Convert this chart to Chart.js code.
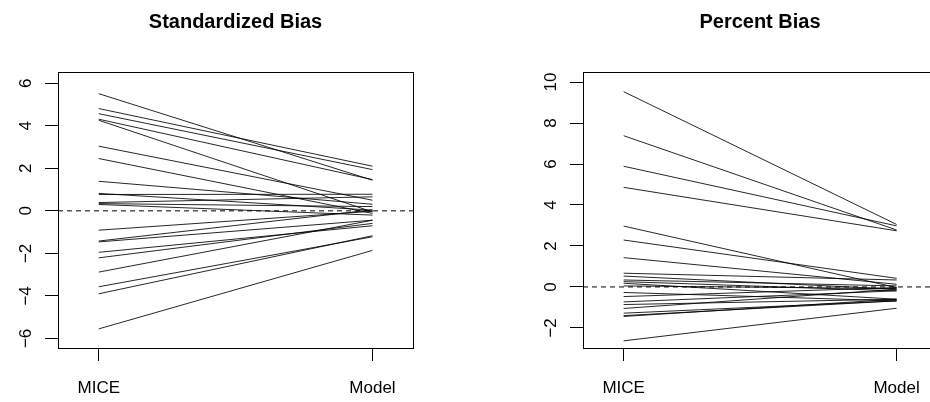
<!DOCTYPE html>
<html>
<head>
<meta charset="utf-8">
<script src="https://cdn.jsdelivr.net/npm/chart.js@4.4.1/dist/chart.umd.min.js"></script>
<style>
  html, body { margin: 0; padding: 0; background: #fff; overflow: hidden; }
  #wrap { position: relative; width: 930px; height: 402px; overflow: hidden; }
  .panel { position: absolute; top: 0; height: 402px; }
</style>
</head>
<body>
<div id="wrap">
  <div class="panel" style="left:0;width:471px;"><canvas id="stdChart"></canvas></div>
  <div class="panel" style="left:465px;width:590px;"><canvas id="pctChart"></canvas></div>
</div>
<script>
const groups = ["MICE", "Model"];

// standardized bias, one pair per parameter
const stdMice  = [5.51, 4.81, 4.57, 4.31, 4.26, 3.04, 2.46, 1.39, 0.82, 0.77, 0.39,
                  0.34, 0.30, -0.91, -1.42, -1.46, -1.95, -2.21, -2.88, -3.57, -3.90, -5.55];
const stdModel = [1.44, 2.10, 1.94, 1.47, -0.05, 0.50, -0.12, 0.31, 0.03, 0.78, 0.66,
                  0.20, -0.20, -0.02, 0.05, -0.44, -0.70, -0.59, -0.44, -1.22, -1.17, -1.86];
const stdTicks = [-6, -4, -2, 0, 2, 4, 6];

// percent bias
const pctMice  = [9.53, 7.38, 5.89, 4.86, 2.97, 2.29, 1.43, 0.67, 0.53, 0.34, 0.26,
                  0.18, 0.05, -0.27, -0.47, -0.73, -0.86, -1.05, -1.28, -1.44, -1.40, -2.63];
const pctModel = [3.05, 2.78, 2.98, 2.74, -0.03, 0.42, 0.13, 0.34, -0.11, 0.05, -0.19,
                  -0.60, -0.08, -0.68, -0.03, -0.19, -0.60, -0.11, -0.68, -0.60, -0.68, -1.04];
const pctTicks = [-2, 0, 2, 4, 6, 8, 10];

const FONT = "'Liberation Sans', Arial, Helvetica, sans-serif";
const INK = "#000";

// closed box around the plotting region, like box() in base graphics
const boxPlugin = {
  id: "box",
  afterDraw(chart) {
    const a = chart.chartArea, ctx = chart.ctx;
    ctx.save();
    ctx.strokeStyle = INK;
    ctx.lineWidth = 1;
    ctx.strokeRect(Math.round(a.left) + 0.5, Math.round(a.top) + 0.5,
                   Math.round(a.right - a.left), Math.round(a.bottom - a.top));
    ctx.restore();
  }
};

function minus(v) {
  return v < 0 ? "\u2212" + Math.abs(v) : String(v);
}

function makePanel(canvasId, title, mice, model, yTicks, yMin, yMax, axisWidth) {
  const xMin = 0.851, xMax = 2.148;
  const datasets = mice.map((v, i) => ({
    data: [{ x: 1, y: v }, { x: 2, y: model[i] }],
    borderColor: "rgba(0,0,0,0.85)",
    borderWidth: 1,
    pointRadius: 0,
    tension: 0
  }));
  // reference line at zero
  datasets.push({
    data: [{ x: xMin, y: 0 }, { x: xMax, y: 0 }],
    borderColor: INK,
    borderWidth: 1,
    borderDash: [5, 4],
    pointRadius: 0
  });

  return new Chart(document.getElementById(canvasId), {
    type: "line",
    data: { datasets: datasets },
    plugins: [boxPlugin],
    options: {
      responsive: true,
      maintainAspectRatio: false,
      animation: false,
      layout: { padding: 0 },
      plugins: {
        legend: { display: false },
        tooltip: { enabled: false },
        title: {
          display: true,
          text: title,
          color: INK,
          font: { family: FONT, size: 20, weight: "bold" },
          padding: { top: 10, bottom: 38 }
        }
      },
      scales: {
        x: {
          type: "linear",
          min: xMin,
          max: xMax,
          afterBuildTicks: s => { s.ticks = [1, 2].map(v => ({ value: v })); },
          afterFit: s => { s.height = 54; },
          border: { display: false },
          grid: { drawOnChartArea: false, drawTicks: true, tickLength: 13, color: INK },
          ticks: {
            color: INK,
            font: { family: FONT, size: 17 },
            padding: 17,
            maxRotation: 0,
            callback: v => groups[v - 1]
          }
        },
        y: {
          min: yMin,
          max: yMax,
          afterBuildTicks: s => { s.ticks = yTicks.map(v => ({ value: v })); },
          afterFit: s => { s.width = axisWidth; },
          border: { display: false },
          grid: { drawOnChartArea: false, drawTicks: true, tickLength: 13, color: INK },
          ticks: {
            color: INK,
            font: { family: FONT, size: 17 },
            padding: 9,
            minRotation: 90,
            maxRotation: 90,
            crossAlign: "center",
            callback: v => minus(v)
          }
        },
        // empty right margin of the same width keeps the title centred over the box
        yPad: {
          position: "right",
          afterFit: s => { s.width = axisWidth; },
          border: { display: false },
          grid: { display: false },
          ticks: { display: false }
        }
      }
    }
  });
}

makePanel("stdChart", "Standardized Bias", stdMice, stdModel, stdTicks, -6.45, 6.53, 58);
makePanel("pctChart", "Percent Bias", pctMice, pctModel, pctTicks, -2.98, 10.49, 118);
</script>
</body>
</html>
